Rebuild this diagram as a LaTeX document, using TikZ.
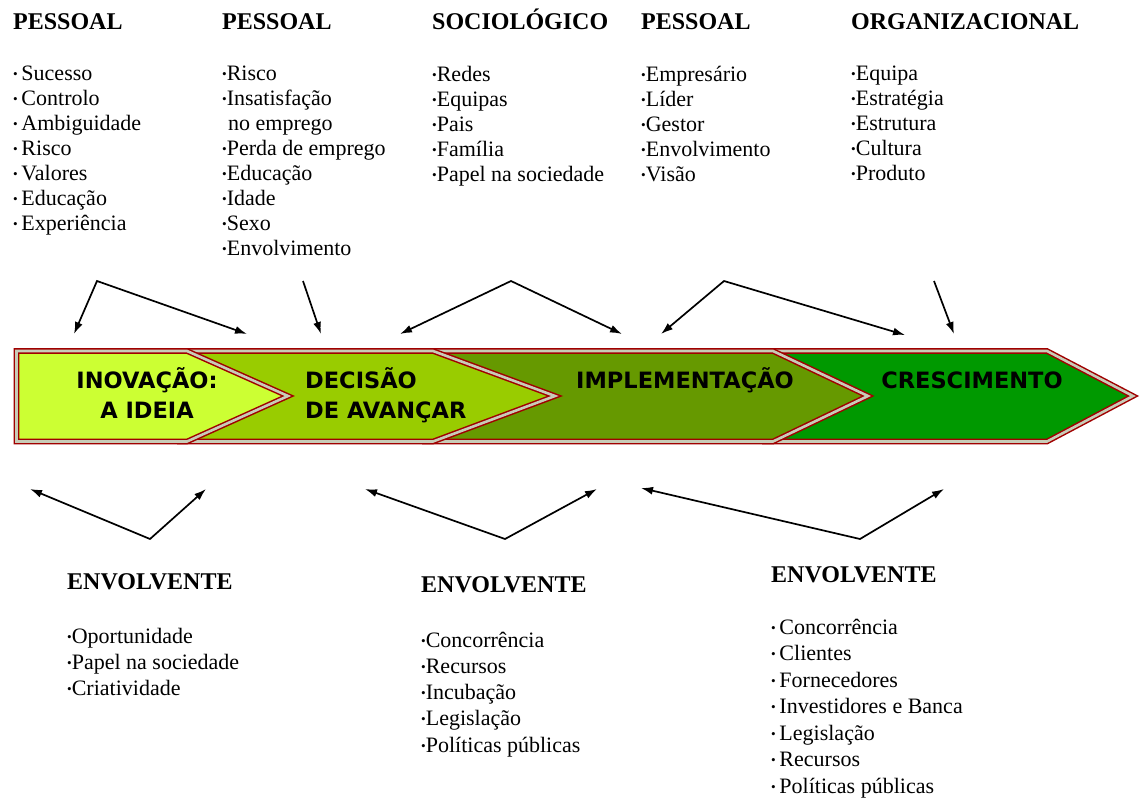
\documentclass[tikz,border=0pt]{standalone}
\usepackage{fontspec}
\setmainfont{Liberation Serif}
\newfontfamily\bandfont{DejaVu Sans}
\usetikzlibrary{arrows.meta}
\definecolor{ideia}{HTML}{CCFF33}
\definecolor{decisao}{HTML}{99CC00}
\definecolor{implem}{HTML}{669900}
\definecolor{cresc}{HTML}{009900}
\definecolor{bordo}{HTML}{A00000}
\definecolor{gapcol}{HTML}{C8CCB8}
\newcommand{\bl}{\raisebox{2pt}{\scalebox{0.6}{\textbullet}}}
\tikzset{
  fase/.style={draw=bordo, double=gapcol, double distance=2.6pt, line width=1.5pt, line join=miter},
  fasetxt/.style={inner sep=0pt, font=\bandfont\bfseries\fontsize{22.5}{30}\selectfont},
  titulo/.style={anchor=base west, inner sep=0pt, font=\rmfamily\bfseries\fontsize{24}{28}\selectfont},
  lista/.style={anchor=base west, inner sep=0pt, align=left, font=\rmfamily\fontsize{22}{25}\selectfont},
  seta/.style={<->, >={Latex[length=12pt,width=8pt]}, line width=1.7pt},
  setaum/.style={->, >={Latex[length=12pt,width=8pt]}, line width=1.7pt},
}
\begin{document}
\begin{tikzpicture}[x=1pt, y=-1pt]
\useasboundingbox (0,0) rectangle (1141,800);
% faixa das fases
\filldraw[fase, fill=cresc] (765,351) -- (1047,351) -- (1133,396) -- (1047,441.5) -- (765,441.5) -- cycle;
\filldraw[fase, fill=implem] (425,351) -- (773,351) -- (868,396) -- (773,441.5) -- (425,441.5) -- cycle;
\filldraw[fase, fill=decisao] (180,351) -- (433,351) -- (555,396) -- (433,441.5) -- (180,441.5) -- cycle;
\filldraw[fase, fill=ideia] (16.5,351) -- (187,351) -- (288,396) -- (187,441.5) -- (16.5,441.5) -- cycle;
% base = ultima linha
\node[fasetxt, align=center, anchor=base] (ideia) at (147,418) {INOVAÇÃO:\\A IDEIA};
\node[fasetxt, align=left, anchor=base west] (avancar) at (305,418) {DECISÃO\\DE AVANÇAR};
\node[fasetxt, anchor=base] (implementa) at (685,388) {IMPLEMENTAÇÃO};
\node[fasetxt, anchor=base] (cresce) at (972,388) {CRESCIMENTO};
% factores de cima
\node[titulo] (pes1) at (13,30) {PESSOAL};
\node[titulo] (pes2) at (222,30) {PESSOAL};
\node[titulo] (socio) at (432,30) {SOCIOLÓGICO};
\node[titulo] (pes3) at (641,30) {PESSOAL};
\node[titulo] (organ) at (851,30) {ORGANIZACIONAL};
\node[lista] (lpes1) at (13,230) {\bl\,Sucesso\\\bl\,Controlo\\\bl\,Ambiguidade\\\bl\,Risco\\\bl\,Valores\\\bl\,Educação\\\bl\,Experiência};
\node[lista] (lpes2) at (222,255) {\bl Risco\\\bl Insatisfação\\\hspace*{6pt}no emprego\\\bl Perda de emprego\\\bl Educação\\\bl Idade\\\bl Sexo\\\bl Envolvimento};
\node[lista] (lsocio) at (432,181) {\bl Redes\\\bl Equipas\\\bl Pais\\\bl Família\\\bl Papel na sociedade};
\node[lista] (lpes3) at (641,181) {\bl Empresário\\\bl Líder\\\bl Gestor\\\bl Envolvimento\\\bl Visão};
\node[lista] (lorgan) at (851,180) {\bl Equipa\\\bl Estratégia\\\bl Estrutura\\\bl Cultura\\\bl Produto};
% factores de baixo
\node[titulo] (env1) at (67,589) {ENVOLVENTE};
\node[titulo] (env2) at (421,592) {ENVOLVENTE};
\node[titulo] (env3) at (771,582) {ENVOLVENTE};
\node[lista, font=\rmfamily\fontsize{22}{26}\selectfont] (lenv1) at (67,695) {\bl Oportunidade\\\bl Papel na sociedade\\\bl Criatividade};
\node[lista, font=\rmfamily\fontsize{22}{26.2}\selectfont] (lenv2) at (421,752) {\bl Concorrência\\\bl Recursos\\\bl Incubação\\\bl Legislação\\\bl Políticas públicas};
\node[lista, font=\rmfamily\fontsize{22}{26.5}\selectfont] (lenv3) at (771,793) {\bl\,Concorrência\\\bl\,Clientes\\\bl\,Fornecedores\\\bl\,Investidores e Banca\\\bl\,Legislação\\\bl\,Recursos\\\bl\,Políticas públicas};
% setas de cima
\coordinate (t1) at (97,281);
\coordinate (t1a) at (74,334);
\coordinate (t1b) at (247,334);
\coordinate (t2) at (303,281);
\coordinate (t2a) at (321,334);
\coordinate (t3) at (511,281);
\coordinate (t3a) at (400,334);
\coordinate (t3b) at (622,334);
\coordinate (t4) at (724,281);
\coordinate (t4a) at (661,334);
\coordinate (t4b) at (905,335);
\coordinate (t5) at (934,281);
\coordinate (t5a) at (954,334);
\draw[seta] (t1a) -- (t1) -- (t1b);
\draw[setaum] (t2) -- (t2a);
\draw[seta] (t3a) -- (t3) -- (t3b);
\draw[seta] (t4a) -- (t4) -- (t4b);
\draw[setaum] (t5) -- (t5a);
% setas de baixo
\coordinate (b1) at (150,539);
\coordinate (b1a) at (30,489);
\coordinate (b1b) at (206,489);
\coordinate (b2) at (505,539);
\coordinate (b2a) at (365,489);
\coordinate (b2b) at (597,489);
\coordinate (b3) at (860,539);
\coordinate (b3a) at (641,488);
\coordinate (b3b) at (944,489);
\draw[seta] (b1a) -- (b1) -- (b1b);
\draw[seta] (b2a) -- (b2) -- (b2b);
\draw[seta] (b3a) -- (b3) -- (b3b);
\end{tikzpicture}
\end{document}
